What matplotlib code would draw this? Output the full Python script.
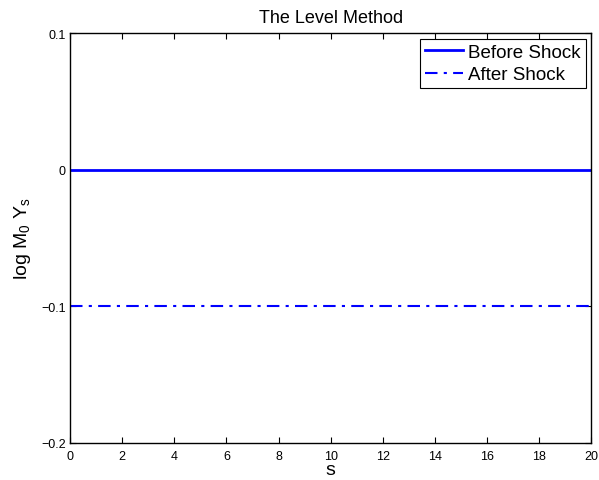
import matplotlib.pyplot as plt

plt.rcParams['font.family'] = ['Liberation Sans', 'DejaVu Sans']
plt.rcParams['mathtext.fontset'] = 'custom'
plt.rcParams['mathtext.rm'] = 'Liberation Sans'

# data
s = [0, 2, 4, 6, 8, 10, 12, 14, 16, 18, 20]
before_shock = [0, 0, 0, 0, 0, 0, 0, 0, 0, 0, 0]
after_shock = [-0.1, -0.1, -0.1, -0.1, -0.1, -0.1, -0.1, -0.1, -0.1, -0.1, -0.1]
xticks = [0, 2, 4, 6, 8, 10, 12, 14, 16, 18, 20]
yticks = [-0.2, -0.1, 0, 0.1]
ytick_labels = ['\u22120.2', '\u22120.1', '0', '0.1']

fig = plt.figure(figsize=(5.99, 4.81), dpi=100)
ax = fig.add_axes([0.117, 0.077, 0.870, 0.852])

ax.plot(s, before_shock, color='#0000ff', lw=2, label='Before Shock')
ax.plot(s, after_shock, color='#0000ff', lw=1.5, ls=(0, (6, 3, 1.5, 3)), label='After Shock')

ax.set_xlim(0, 20)
ax.set_ylim(-0.2, 0.1)
ax.set_xticks(xticks)
ax.set_yticks(yticks)
ax.set_yticklabels(ytick_labels)
ax.tick_params(direction='in', top=True, right=True, labelsize=9, length=4)
ax.tick_params(axis='x', pad=5)
ax.tick_params(axis='y', pad=3)
for sp in ax.spines.values():
    sp.set_linewidth(1)

ax.set_title('The Level Method', fontsize=13, pad=8)
ax.set_xlabel('s', fontsize=14)
ax.xaxis.set_label_coords(0.5, -0.045)
ax.set_ylabel(r'log M$_\mathregular{0}$ Y$_\mathregular{s}$', fontsize=14)
ax.yaxis.set_label_coords(-0.071, 0.5)

leg = ax.legend(loc='upper right', fontsize=13.5, fancybox=False, edgecolor='black',
                framealpha=1, borderaxespad=0.3, handlelength=2.0, handletextpad=0.3,
                borderpad=0.25, labelspacing=0.3)
leg.get_frame().set_linewidth(0.8)

fig.savefig('out.png', dpi=100)
